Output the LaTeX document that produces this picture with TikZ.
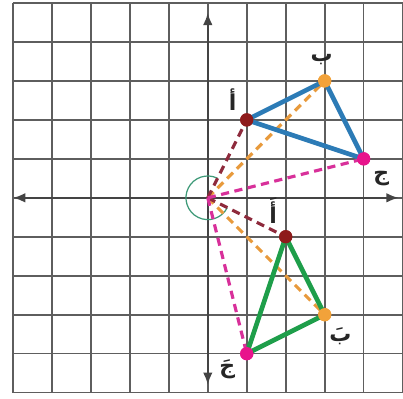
\documentclass[tikz,border=0pt]{standalone}
\usepackage{fontspec}
\newfontfamily\arabicfont[Script=Arabic]{DejaVu Sans}
\TeXXeTstate=1
\usetikzlibrary{arrows.meta}
\definecolor{gridc}{HTML}{5E5E5E}
\definecolor{axisc}{HTML}{444444}
\definecolor{triblue}{HTML}{2C7BB6}
\definecolor{trigreen}{HTML}{1E9E4A}
\definecolor{ptred}{HTML}{8E1B1B}
\definecolor{ptorange}{HTML}{F2A23A}
\definecolor{ptmag}{HTML}{E8148C}
\definecolor{dashred}{HTML}{8E2A3C}
\definecolor{dashorange}{HTML}{E89A3C}
\definecolor{dashmag}{HTML}{D8309A}
\definecolor{arcgreen}{HTML}{3E9A78}
\tikzset{
  gridline/.style={gridc, line width=1.2pt},
  axisline/.style={axisc, line width=1.5pt, -{Latex[length=9pt,width=7pt]}},
  ptdot/.style={circle, inner sep=0pt, minimum size=0.34cm},
  dashline/.style={line width=2.3pt, dash pattern=on 6pt off 4pt},
  triedge/.style={line width=3.4pt, line join=round},
  lab/.style={font=\arabicfont\bfseries\fontsize{16}{16}\selectfont, inner sep=0pt, text=black!85}
}
\begin{document}
\begin{tikzpicture}
\useasboundingbox (-5.333,-5.154) rectangle (5.01,5.077);
\fill[white] (-5.333,-5.154) rectangle (5.01,5.077);
% grid
\draw[gridline] (-5,-5) grid (5,5);
% axes
\coordinate (O) at (0,0);
\coordinate (xl) at (-5,0);
\coordinate (xr) at (4.9,0);
\coordinate (yt) at (0,4.75);
\coordinate (yb) at (0,-4.8);
\draw[axisline] (O) -- (xl);
\draw[axisline] (O) -- (xr);
\draw[axisline] (O) -- (yt);
\draw[axisline] (O) -- (yb);
% rotation arc
\draw[arcgreen, line width=0.9pt] (63.4:0.56) arc[start angle=63.4, end angle=333.4, radius=0.56];
% points
\node[ptdot, fill=ptred] (A) at (1,2) {};
\node[ptdot, fill=ptorange] (B) at (3,3) {};
\node[ptdot, fill=ptmag] (C) at (4,1) {};
\node[ptdot, fill=ptred] (A1) at (2,-1) {};
\node[ptdot, fill=ptorange] (B1) at (3,-3) {};
\node[ptdot, fill=ptmag] (C1) at (1,-4) {};
% dashed rays
\draw[dashline, dashorange] (O) -- (B.center);
\draw[dashline, dashorange] (O) -- (B1.center);
\draw[dashline, dashred] (O) -- (A.center);
\draw[dashline, dashred] (O) -- (A1.center);
\draw[dashline, dashmag] (O) -- (C.center);
\draw[dashline, dashmag] (O) -- (C1.center);
% triangles
\draw[triedge, triblue] (A.center) -- (B.center) -- (C.center) -- cycle;
\draw[triedge, trigreen] (A1.center) -- (B1.center) -- (C1.center) -- cycle;
% dots on top
\node[ptdot, fill=ptred] at (A) {};
\node[ptdot, fill=ptorange] at (B) {};
\node[ptdot, fill=ptmag] at (C) {};
\node[ptdot, fill=ptred] at (A1) {};
\node[ptdot, fill=ptorange] at (B1) {};
\node[ptdot, fill=ptmag] at (C1) {};
% labels
\node[lab] (lA) at (0.64,2.52) {\beginR أ\endR};
\node[lab] (lB) at (2.92,3.55) {\beginR ب\endR};
\node[lab] (lC) at (4.45,0.5) {\beginR ج\endR};
\node[lab] (lA1) at (1.68,-0.33) {\beginR أَ\endR};
\node[lab] (lB1) at (3.4,-3.55) {\beginR بَ\endR};
\node[lab] (lC1) at (0.5,-4.4) {\beginR جَ\endR};
\end{tikzpicture}
\end{document}
